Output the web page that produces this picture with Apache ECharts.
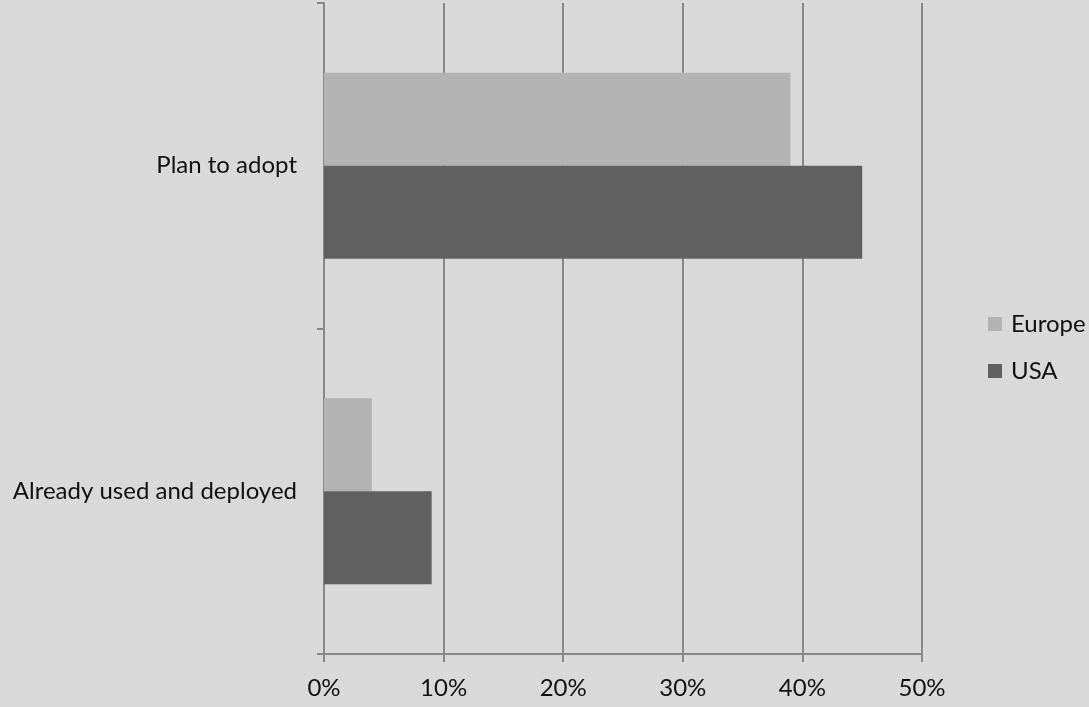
<!DOCTYPE html>
<html>
<head>
<meta charset="utf-8">
<script src="https://cdn.jsdelivr.net/npm/echarts@6/dist/echarts.min.js"></script>
<style>
html,body{margin:0;padding:0;background:#d9d9d9;}
#chart{width:1089px;height:707px;}
</style>
</head>
<body>
<div id="chart"></div>
<script>
const categories = ['Already used and deployed', 'Plan to adopt'];
const seriesNames = ['Europe', 'USA'];
const europe = [0.04, 0.39];
const usa = [0.09, 0.45];
const xTicks = [0, 0.1, 0.2, 0.3, 0.4, 0.5];

const chart = echarts.init(document.getElementById('chart'));
const font = 'Lato';
chart.setOption({
  backgroundColor: '#d9d9d9',
  animation: false,
  grid: {left: 324, right: 167, top: 3, bottom: 53, containLabel: false},
  legend: {
    orient: 'vertical',
    left: 988,
    top: 312,
    itemWidth: 14,
    itemHeight: 14,
    itemGap: 23,
    padding: 0,
    icon: 'rect',
    data: seriesNames,
    textStyle: {fontFamily: font, fontSize: 24, lineHeight: 24, color: '#111', padding: [0,0,0,4]}
  },
  xAxis: {
    type: 'value',
    min: 0, max: 0.5, interval: 0.1,
    axisLine: {show: true, lineStyle: {color: '#888', width: 2}},
    axisTick: {show: true, length: 8, lineStyle: {color: '#888', width: 2}},
    splitLine: {show: true, lineStyle: {color: '#888', width: 2}},
    axisLabel: {
      margin: 22,
      fontFamily: font, fontSize: 24, color: '#111',
      formatter: v => Math.round(v * 100) + '%'
    }
  },
  yAxis: {
    type: 'category',
    data: categories,
    axisLine: {show: true, lineStyle: {color: '#888', width: 2}},
    axisTick: {show: true, length: 7, lineStyle: {color: '#888', width: 2}},
    axisLabel: {margin: 27, fontFamily: font, fontSize: 24, color: '#111'}
  },
  series: [
    {name: 'Europe', type: 'bar', data: europe, itemStyle: {color: '#b3b3b3'}, barWidth: 93, barGap: '0%'},
    {name: 'USA', type: 'bar', data: usa, itemStyle: {color: '#606060'}, barWidth: 93, barGap: '0%'}
  ]
});
</script>
</body>
</html>
